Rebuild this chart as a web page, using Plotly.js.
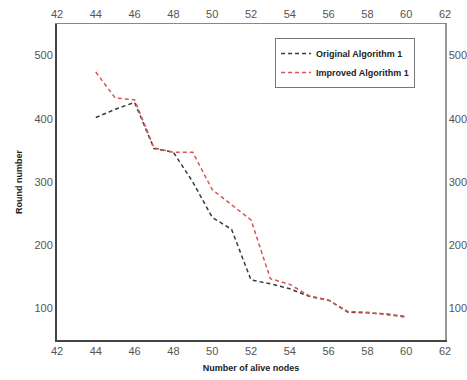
<!DOCTYPE html>
<html>
<head>
<meta charset="utf-8">
<script src="https://cdn.plot.ly/plotly-3.0.1.min.js"></script>
<style>html,body{margin:0;padding:0;background:#fff;}#chart{width:467px;height:380px;}</style>
</head>
<body>
<div id="chart"></div>
<script>
var nodes = [44,45,46,47,48,49,50,51,52,53,54,55,56,57,58,59,60];
var originalRounds = [402,415,426,353,347,300,244,225,145,139,131,119,113,94,93,91,87];
var improvedRounds = [474,433,430,354,347,347,288,264,240,147,138,120,113,95,94,90,86];
var xTicks = [42,44,46,48,50,52,54,56,58,60,62];
var yTicks = [100,200,300,400,500];
var seriesNames = ['Original Algorithm 1','Improved Algorithm 1'];

var traces = [
  {x: nodes, y: originalRounds, name: seriesNames[0], type: 'scatter', mode: 'lines',
   line: {color: '#3a3a3a', width: 1.5, dash: '4px,3px'}},
  {x: nodes, y: improvedRounds, name: seriesNames[1], type: 'scatter', mode: 'lines',
   line: {color: '#d95555', width: 1.5, dash: '4px,3px'}},
  {x: nodes, y: originalRounds, xaxis: 'x2', yaxis: 'y2', type: 'scatter', mode: 'lines',
   opacity: 0, showlegend: false, hoverinfo: 'skip', line: {width: 0}}
];

var tickFont = {family: 'Arial, Liberation Sans, sans-serif', size: 11, color: '#555'};
var layout = {
  width: 467, height: 380,
  margin: {l: 57, r: 22, t: 24, b: 40},
  paper_bgcolor: '#fff', plot_bgcolor: '#fff',
  showlegend: true,
  legend: {x: 0.562, y: 0.956, xanchor: 'left', yanchor: 'top',
           bgcolor: '#fff', bordercolor: '#777', borderwidth: 1,
           font: {family: 'Arial, Liberation Sans, sans-serif', size: 9, color: '#222', weight: 'bold'},
           tracegroupgap: 0},
  xaxis: {range: [42, 62], tickvals: xTicks, ticktext: xTicks.map(String), showgrid: false, zeroline: false,
          showline: true, linecolor: '#444', linewidth: 2, ticks: '', tickfont: tickFont,
          title: {text: '<b>Number of alive nodes</b>', font: {family: 'Arial, Liberation Sans, sans-serif', size: 9, color: '#222'}, standoff: 8}},
  xaxis2: {range: [42, 62], tickvals: xTicks, ticktext: xTicks.map(String), overlaying: 'x', side: 'top', anchor: 'y',
           showgrid: false, zeroline: false, showline: true, linecolor: '#888', linewidth: 1.5, ticks: '', tickfont: tickFont},
  yaxis: {range: [50, 550], tickvals: yTicks, ticktext: yTicks.map(String), showgrid: false, zeroline: false,
          showline: true, linecolor: '#444', linewidth: 2, ticks: '', tickfont: tickFont,
          title: {text: '<b>Round number</b>', font: {family: 'Arial, Liberation Sans, sans-serif', size: 9, color: '#222'}, standoff: 10}},
  yaxis2: {range: [50, 550], tickvals: yTicks, ticktext: yTicks.map(String), overlaying: 'y', side: 'right', anchor: 'x',
           showgrid: false, zeroline: false, showline: true, linecolor: '#999', linewidth: 1.5, ticks: '', tickfont: tickFont}
};

Plotly.newPlot('chart', traces, layout, {displayModeBar: false, staticPlot: true});
</script>
</body>
</html>
